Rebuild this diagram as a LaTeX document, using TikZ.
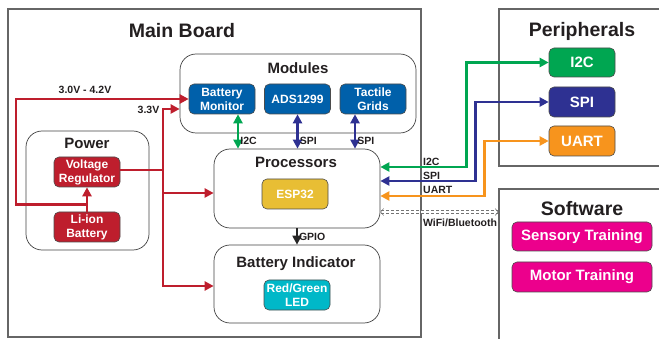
\documentclass[tikz,border=0pt]{standalone}
\usepackage{fontspec}
\setmainfont{Liberation Sans}
\usetikzlibrary{arrows.meta}

\definecolor{pwrred}{RGB}{190,30,45}
\definecolor{busgreen}{RGB}{0,166,81}
\definecolor{busblue}{RGB}{46,49,146}
\definecolor{busorange}{RGB}{247,148,29}
\definecolor{modblue}{RGB}{0,96,170}
\definecolor{espgold}{RGB}{232,190,52}
\definecolor{ledcyan}{RGB}{0,184,200}
\definecolor{swpink}{RGB}{236,0,140}
\definecolor{txtdark}{RGB}{35,31,32}

\begin{document}
\begin{tikzpicture}[x=1pt,y=-1pt,
    outer/.style={draw=black!60, line width=1.1pt, inner sep=0pt},
    group/.style={draw=black!75, line width=0.7pt, rounded corners=16pt, inner sep=0pt},
    block/.style={draw=black!70, line width=0.6pt, rounded corners=5pt, text=white,
        font=\fontsize{12}{14}\selectfont\bfseries, align=center,
        minimum width=66pt, minimum height=30pt, inner sep=1pt},
    bigblock/.style={block, font=\fontsize{15}{18}\selectfont\bfseries},
    title/.style={text=txtdark, font=\fontsize{19.5}{23}\selectfont\bfseries},
    subtitle/.style={text=txtdark, font=\fontsize{15}{18}\selectfont\bfseries},
    lbl/.style={text=txtdark, font=\fontsize{10.5}{12}\selectfont\bfseries, inner sep=1pt},
    tip/.style={-{Triangle[length=9pt,width=9pt]}},
    tips/.style={{Triangle[length=9pt,width=9pt]}-{Triangle[length=9pt,width=9pt]}},
    wire/.style={line width=2.8pt}]
    \useasboundingbox (0,0) rectangle (659,339);

    % Kotak luar
    \node[outer, minimum width=413pt, minimum height=328pt] (mainboard) at (214.5,173) {};
    \node[outer, minimum width=181pt, minimum height=157pt] (periph) at (589.5,87.5) {};
    \node[outer, minimum width=181pt, minimum height=171pt] (softw) at (589.5,274.5) {};
    \node[title] (mainlbl) at (182,31) {Main Board};
    \node[title] (periphlbl) at (582,31) {Peripherals};
    \node[title] (softwlbl) at (582,209) {Software};

    % Kelompok di papan utama
    \node[group, minimum width=236pt, minimum height=79pt] (modules) at (298,93.5) {};
    \node[group, minimum width=166pt, minimum height=79pt] (processors) at (297,188.5) {};
    \node[group, minimum width=166pt, minimum height=78pt] (batind) at (297,284) {};
    \node[group, minimum width=123pt, minimum height=119pt] (power) at (87.5,190.5) {};
    \node[subtitle] (modlbl) at (298,68) {Modules};
    \node[subtitle] (proclbl) at (296,162) {Processors};
    \node[subtitle] (indlbl) at (296,264) {Battery Indicator};
    \node[subtitle] (powlbl) at (87,143) {Power};

    % Blok-blok
    \node[block, fill=modblue] (batmon) at (222,99) {Battery\\Monitor};
    \node[block, fill=modblue] (ads) at (297.5,99) {ADS1299};
    \node[block, fill=modblue] (tactile) at (373,99) {Tactile\\Grids};
    \node[block, fill=espgold] (esp) at (295,194) {ESP32};
    \node[block, fill=ledcyan] (led) at (297,295) {Red/Green\\LED};
    \node[block, fill=pwrred] (vreg) at (87,172) {Voltage\\Regulator};
    \node[block, fill=pwrred] (liion) at (87,227) {Li-ion\\Battery};

    % Periferal dan perangkat lunak
    \node[bigblock, fill=busgreen, minimum height=29pt] (i2cp) at (582,62.5) {I2C};
    \node[bigblock, fill=busblue] (spip) at (582,102) {SPI};
    \node[bigblock, fill=busorange] (uartp) at (582,141) {UART};
    \node[bigblock, fill=swpink, minimum width=140pt, minimum height=29pt] (sensory) at (582,236.5) {Sensory Training};
    \node[bigblock, fill=swpink, minimum width=140pt] (motor) at (582,277) {Motor Training};

    % Jalur daya
    \draw[wire, pwrred, tip] (liion.north) -- (vreg.south);
    \draw[wire, pwrred, tip] (liion.north) ++(0,-7) -- ++(-71,0) |- (batmon.west);
    \coordinate (bus) at (163,170);
    \draw[wire, pwrred] (vreg.east |- bus) -- (bus);
    \draw[wire, pwrred, tip] (bus) |- ([yshift=-15.5pt]modules.west);
    \draw[wire, pwrred, tip] (bus) |- ([yshift=-4.5pt]processors.west);
    \draw[wire, pwrred, tip] (bus) |- ([yshift=-2pt]batind.west);
    \node[lbl] (vbat) at (85,90) {3.0V - 4.2V};
    \node[lbl] (v33) at (148.5,109.5) {3.3V};

    % Bus modul ke prosesor
    \draw[wire, busgreen, tips] ([xshift=16pt]batmon.south) -- ([xshift=16pt]batmon.south |- processors.north)
        node[lbl, right, pos=0.78] (i2cm) {I2C};
    \draw[wire, busblue, tips] (ads.south) -- (ads.south |- processors.north)
        node[lbl, right, pos=0.78] (spim) {SPI};
    \draw[wire, busblue, tips] ([xshift=-18pt]tactile.south) -- ([xshift=-18pt]tactile.south |- processors.north)
        node[lbl, right, pos=0.78] (spit) {SPI};

    % Bus ke periferal
    \draw[wire, busgreen, tips] ([yshift=21.5pt]processors.east) -- ++(86,0) |- (i2cp.west);
    \draw[wire, busblue, tips] ([yshift=7.5pt]processors.east) -- ++(95,0) |- (spip.west);
    \draw[wire, busorange, tips] ([yshift=-7.5pt]processors.east) -- ++(104,0) |- (uartp.west);
    \node[lbl, anchor=west] (i2cx) at (422,161.5) {I2C};
    \node[lbl, anchor=west] (spix) at (422,175.5) {SPI};
    \node[lbl, anchor=west] (uartx) at (422,190) {UART};

    % Nirkabel
    \draw[black!55, line width=0.5pt, double=white, double distance=2.5pt, dash pattern=on 3pt off 2pt,
        {Straight Barb[length=3pt,width=7pt]}-{Straight Barb[length=3pt,width=7pt]}]
        ([yshift=-23.5pt]processors.east) -- ([yshift=-23.5pt]processors.east -| softw.west);
    \node[lbl] (wifi) at (460,223) {WiFi/Bluetooth};

    % GPIO
    \draw[wire, black!85, tip, line width=2pt] (processors.south) -- (batind.north)
        node[lbl, right, midway] (gpio) {GPIO};

\end{tikzpicture}
\end{document}
